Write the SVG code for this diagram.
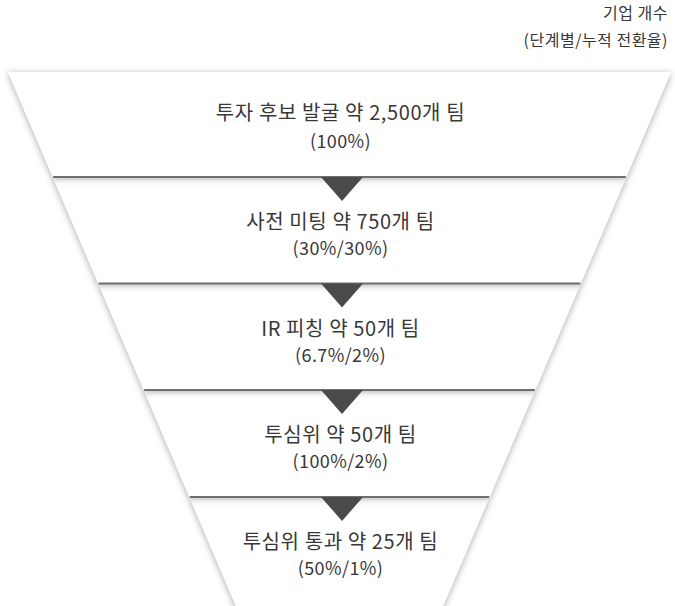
<svg xmlns="http://www.w3.org/2000/svg" width="675" height="606" viewBox="0 0 675 606">
  <style>
    .band { fill: #ffffff; filter: url(#sh); }
    .t { font-family: "Noto Sans CJK KR", "Noto Sans", sans-serif; fill: #383838; text-anchor: middle; }
    .title { font-size: 20px; letter-spacing: 0.6px; }
    .sub { font-size: 18px; letter-spacing: 0.4px; }
    .hdr { font-family: "Noto Sans CJK KR", "Noto Sans", sans-serif; fill: #383838; font-size: 16px; letter-spacing: 0.5px; text-anchor: end; }
    .sep { stroke: #6f6f6f; stroke-width: 2; fill: none; }
    .tri { fill: #4a4a4a; }
  </style>
  <defs>
    <filter id="sh" x="-10%" y="-20%" width="120%" height="140%">
      <feDropShadow dx="0" dy="1.5" stdDeviation="3.5" flood-color="#000" flood-opacity="0.35"/>
    </filter>
  </defs>
  <rect width="675" height="606" fill="#ffffff"/>
  <g id="header">
    <text class="hdr" x="668" y="19">기업 개수</text>
    <text class="hdr" x="668" y="46">(단계별/누적 전환율)</text>
  </g>
  <g id="stage5">
    <polygon class="band" points="189.5,497 489.5,497 441.3,610 237.7,610"/>
    <text class="t title" x="340.5" y="549">투심위 통과 약 25개 팀</text>
    <text class="t sub" x="340.5" y="575">(50%/1%)</text>
  </g>
  <g id="stage4">
    <polygon class="band" points="143.8,390 535.2,390 489.5,497 189.5,497"/>
    <text class="t title" x="340.5" y="442">투심위 약 50개 팀</text>
    <text class="t sub" x="340.5" y="468">(100%/2%)</text>
  </g>
  <g id="stage3">
    <polygon class="band" points="98.3,283.5 580.7,283.5 535.2,390 143.8,390"/>
    <text class="t title" x="340.5" y="335.5">IR 피칭 약 50개 팀</text>
    <text class="t sub" x="340.5" y="361.5">(6.7%/2%)</text>
  </g>
  <g id="stage2">
    <polygon class="band" points="52.8,177 626.2,177 580.7,283.5 98.3,283.5"/>
    <text class="t title" x="340.5" y="229">사전 미팅 약 750개 팀</text>
    <text class="t sub" x="340.5" y="255">(30%/30%)</text>
  </g>
  <g id="stage1">
    <polygon class="band" points="8,72 671,72 626.2,177 52.8,177"/>
    <text class="t title" x="340.5" y="120">투자 후보 발굴 약 2,500개 팀</text>
    <text class="t sub" x="340.5" y="148">(100%)</text>
  </g>
  <g id="connectors">
    <line class="sep" x1="53.2" y1="177" x2="625.8" y2="177"/>
    <line class="sep" x1="98.7" y1="283.5" x2="580.3" y2="283.5"/>
    <line class="sep" x1="144.2" y1="390" x2="534.8" y2="390"/>
    <line class="sep" x1="189.9" y1="497" x2="489.1" y2="497"/>
    <polygon class="tri" points="321,177 363,177 342,201"/>
    <polygon class="tri" points="321,283.5 363,283.5 342,307.5"/>
    <polygon class="tri" points="321,390 363,390 342,414"/>
    <polygon class="tri" points="321,497 363,497 342,521"/>
  </g>
</svg>
